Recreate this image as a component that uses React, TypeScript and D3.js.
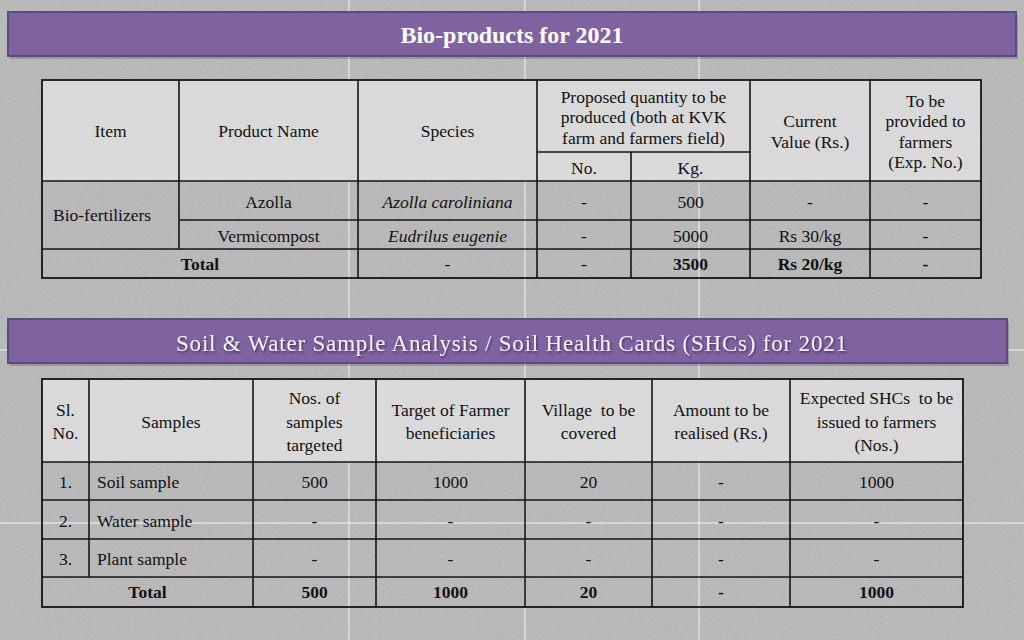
import React from "react";
import * as d3 from "d3";

// ---------- data ----------
const title1 = "Bio-products for 2021";
const title2 = "Soil & Water Sample Analysis / Soil Health Cards (SHCs) for 2021";

const bioHeaderItem = "Item";
const bioHeaderProduct = "Product Name";
const bioHeaderSpecies = "Species";
const bioHeaderProposed = ["Proposed quantity to be", "produced (both at KVK", "farm and farmers field)"];
const bioHeaderSub = ["No.", "Kg."];
const bioHeaderValue = ["Current", "Value (Rs.)"];
const bioHeaderFarmers = ["To be", "provided to", "farmers", "(Exp. No.)"];

const bioItem = "Bio-fertilizers";
const bioProducts = ["Azolla", "Vermicompost"];
const bioSpecies = ["Azolla caroliniana", "Eudrilus eugenie"];
const bioNo = ["-", "-"];
const bioKg = ["500", "5000"];
const bioValue = ["-", "Rs 30/kg"];
const bioFarmers = ["-", "-"];
const bioTotalLabel = "Total";
const bioTotals = ["-", "-", "3500", "Rs 20/kg", "-"];

const soilHeaders = [
  ["Sl.", "No."],
  ["Samples"],
  ["Nos. of", "samples", "targeted"],
  ["Target of Farmer", "beneficiaries"],
  ["Village  to be", "covered"],
  ["Amount to be", "realised (Rs.)"],
  ["Expected SHCs  to be", "issued to farmers", "(Nos.)"],
];
const sampleSl = ["1.", "2.", "3."];
const sampleNames = ["Soil sample", "Water sample", "Plant sample"];
const samplesTargeted = ["500", "-", "-"];
const farmerTargets = ["1000", "-", "-"];
const villagesCovered = ["20", "-", "-"];
const amountsRealised = ["-", "-", "-"];
const shcsIssued = ["1000", "-", "-"];
const soilTotalLabel = "Total";
const soilTotals = ["500", "1000", "20", "-", "1000"];

// ---------- layout ----------
const W = 1024;
const H = 640;
const FONT = "'Liberation Serif', 'Times New Roman', serif";
const FS = 17.5;
const LH = 20.5;
const LH2 = 23.5;
const BORDER = "#141414";
const HEAD_BG = "#d9d9d9";

const t1Cols = [42, 179, 358, 537, 631, 750, 870, 981];
const t1Rows = [80, 152, 181, 220, 249, 278];
const t2Cols = [42, 89, 253, 376, 525, 652, 790, 963];
const t2Rows = [379, 462, 500, 539, 577, 607];

const mid = (a: number, b: number) => (a + b) / 2;

function Lines({ x, y, lines, bold = false, italic = false, anchor = "middle" as any, lh = LH }: any) {
  const n = lines.length;
  return (
    <>
      {lines.map((l: string, i: number) => (
        <text
          key={i}
          x={x}
          y={y + (i - (n - 1) / 2) * lh}
          textAnchor={anchor}
          dominantBaseline="central"
          fontFamily={FONT}
          fontSize={FS}
          fontWeight={bold ? "bold" : "normal"}
          fontStyle={italic ? "italic" : "normal"}
          fill="#111"
          style={{ whiteSpace: "pre" }}
        >
          {l}
        </text>
      ))}
    </>
  );
}

function Banner({ x, y, w, h, children }: any) {
  return (
    <g>
      <rect x={x + 2} y={y + 3} width={w} height={h} fill="#000" opacity={0.18} />
      <rect x={x} y={y} width={w} height={h} fill="#7f63a1" stroke="#5e4a82" strokeWidth={2} />
      {children}
    </g>
  );
}

function Seg({ x1, y1, x2, y2 }: any) {
  return <line x1={x1} y1={y1} x2={x2} y2={y2} stroke={BORDER} strokeWidth={1.6} />;
}

export default function App() {
  const c1 = t1Cols;
  const r1 = t1Rows;
  const c2 = t2Cols;
  const r2 = t2Rows;
  const bodyRows1 = d3.range(bioProducts.length);
  const bodyRows2 = d3.range(sampleNames.length);
  const t2Data = [samplesTargeted, farmerTargets, villagesCovered, amountsRealised, shcsIssued];

  return (
    <svg width={W} height={H} style={{ position: "absolute", left: 0, top: 0, display: "block" }}>
      <defs>
        <filter id="noise" x="0" y="0" width="100%" height="100%">
          <feTurbulence type="fractalNoise" baseFrequency="0.9" numOctaves={2} seed={3} />
          <feColorMatrix type="matrix" values="0 0 0 0 1  0 0 0 0 1  0 0 0 0 1  0 0 0 0.9 -0.45" />
        </filter>
        <filter id="tshadow" x="-5%" y="-20%" width="110%" height="150%">
          <feDropShadow dx="1" dy="1.5" stdDeviation="0.8" floodColor="#2c2040" floodOpacity={0.8} />
        </filter>
      </defs>
      {/* background */}
      <rect x={0} y={0} width={W} height={H} fill="#b7b7b7" />
      <rect x={0} y={0} width={W} height={H} filter="url(#noise)" opacity={0.4} />
      {/* guide lines */}
      {[349, 525, 699].map((x) => (
        <line key={"gv" + x} x1={x} y1={0} x2={x} y2={H} stroke="#fff" strokeWidth={1} opacity={0.85} />
      ))}
      {[350, 523].map((y) => (
        <line key={"gh" + y} x1={0} y1={y} x2={W} y2={y} stroke="#fff" strokeWidth={1} opacity={0.85} />
      ))}

      {/* banner 1 */}
      <Banner x={8} y={12} w={1008} h={44}>
        <text x={512} y={42.5} textAnchor="middle" fontFamily={FONT} fontSize={24} fontWeight="bold" fill="#fff">
          {title1}
        </text>
      </Banner>

      {/* table 1 */}
      <rect x={c1[0]} y={r1[0]} width={c1[7] - c1[0]} height={r1[2] - r1[0]} fill={HEAD_BG} />
      <Lines x={mid(c1[0], c1[1])} y={mid(r1[0], r1[2])} lines={[bioHeaderItem]} />
      <Lines x={mid(c1[1], c1[2])} y={mid(r1[0], r1[2])} lines={[bioHeaderProduct]} />
      <Lines x={mid(c1[2], c1[3])} y={mid(r1[0], r1[2])} lines={[bioHeaderSpecies]} />
      <Lines x={mid(c1[3], c1[5])} y={mid(r1[0], r1[1]) + 1} lines={bioHeaderProposed} />
      {bioHeaderSub.map((s, i) => (
        <Lines key={s} x={mid(c1[3 + i], c1[4 + i])} y={mid(r1[1], r1[2]) + 1} lines={[s]} />
      ))}
      <Lines x={mid(c1[5], c1[6])} y={mid(r1[0], r1[2]) + 1} lines={bioHeaderValue} />
      <Lines x={mid(c1[6], c1[7])} y={mid(r1[0], r1[2]) + 1} lines={bioHeaderFarmers} />

      <Lines x={c1[0] + 11} y={mid(r1[2], r1[4])} lines={[bioItem]} anchor="start" />
      {bodyRows1.map((i) => {
        const y = mid(r1[2 + i], r1[3 + i]) + 1;
        return (
          <g key={"b" + i}>
            <Lines x={mid(c1[1], c1[2])} y={y} lines={[bioProducts[i]]} />
            <Lines x={mid(c1[2], c1[3])} y={y} lines={[bioSpecies[i]]} italic />
            <Lines x={mid(c1[3], c1[4])} y={y} lines={[bioNo[i]]} />
            <Lines x={mid(c1[4], c1[5])} y={y} lines={[bioKg[i]]} />
            <Lines x={mid(c1[5], c1[6])} y={y} lines={[bioValue[i]]} />
            <Lines x={mid(c1[6], c1[7])} y={y} lines={[bioFarmers[i]]} />
          </g>
        );
      })}
      <Lines x={mid(c1[0], c1[2])} y={mid(r1[4], r1[5])} lines={[bioTotalLabel]} bold />
      {bioTotals.map((v, i) => (
        <Lines key={"bt" + i} x={mid(c1[2 + i], c1[3 + i])} y={mid(r1[4], r1[5])} lines={[v]} bold={i >= 2} />
      ))}
      {/* table 1 grid */}
      <rect x={c1[0]} y={r1[0]} width={c1[7] - c1[0]} height={r1[5] - r1[0]} fill="none" stroke={BORDER} strokeWidth={1.8} />
      <Seg x1={c1[3]} y1={r1[1]} x2={c1[5]} y2={r1[1]} />
      <Seg x1={c1[0]} y1={r1[2]} x2={c1[7]} y2={r1[2]} />
      <Seg x1={c1[1]} y1={r1[3]} x2={c1[7]} y2={r1[3]} />
      <Seg x1={c1[0]} y1={r1[4]} x2={c1[7]} y2={r1[4]} />
      <Seg x1={c1[1]} y1={r1[0]} x2={c1[1]} y2={r1[4]} />
      {[2, 3, 5, 6].map((k) => (
        <Seg key={"v1" + k} x1={c1[k]} y1={r1[0]} x2={c1[k]} y2={r1[5]} />
      ))}
      <Seg x1={c1[4]} y1={r1[1]} x2={c1[4]} y2={r1[5]} />

      {/* banner 2 */}
      <Banner x={8} y={319} w={999} h={44}>
        <text
          x={176}
          y={350.5}
          textLength={671}
          lengthAdjust="spacing"
          fontFamily={FONT}
          fontSize={23}
          fill="#f3eef8"
          filter="url(#tshadow)"
        >
          {title2}
        </text>
      </Banner>

      {/* table 2 */}
      <rect x={c2[0]} y={r2[0]} width={c2[7] - c2[0]} height={r2[1] - r2[0]} fill={HEAD_BG} />
      {soilHeaders.map((h, i) => (
        <Lines key={"sh" + i} x={mid(c2[i], c2[i + 1])} y={mid(r2[0], r2[1]) + 1} lines={h} lh={LH2} />
      ))}
      {bodyRows2.map((i) => {
        const y = mid(r2[1 + i], r2[2 + i]) + 1;
        return (
          <g key={"s" + i}>
            <Lines x={mid(c2[0], c2[1])} y={y} lines={[sampleSl[i]]} />
            <Lines x={c2[1] + 8} y={y} lines={[sampleNames[i]]} anchor="start" />
            {t2Data.map((col, j) => (
              <Lines key={j} x={mid(c2[2 + j], c2[3 + j])} y={y} lines={[col[i]]} />
            ))}
          </g>
        );
      })}
      <Lines x={mid(c2[0], c2[2])} y={mid(r2[4], r2[5])} lines={[soilTotalLabel]} bold />
      {soilTotals.map((v, j) => (
        <Lines key={"st" + j} x={mid(c2[2 + j], c2[3 + j])} y={mid(r2[4], r2[5])} lines={[v]} bold />
      ))}
      {/* table 2 grid */}
      <rect x={c2[0]} y={r2[0]} width={c2[7] - c2[0]} height={r2[5] - r2[0]} fill="none" stroke={BORDER} strokeWidth={1.8} />
      {[1, 2, 3, 4].map((k) => (
        <Seg key={"h2" + k} x1={c2[0]} y1={r2[k]} x2={c2[7]} y2={r2[k]} />
      ))}
      <Seg x1={c2[1]} y1={r2[0]} x2={c2[1]} y2={r2[4]} />
      {[2, 3, 4, 5, 6].map((k) => (
        <Seg key={"v2" + k} x1={c2[k]} y1={r2[0]} x2={c2[k]} y2={r2[5]} />
      ))}
    </svg>
  );
}
